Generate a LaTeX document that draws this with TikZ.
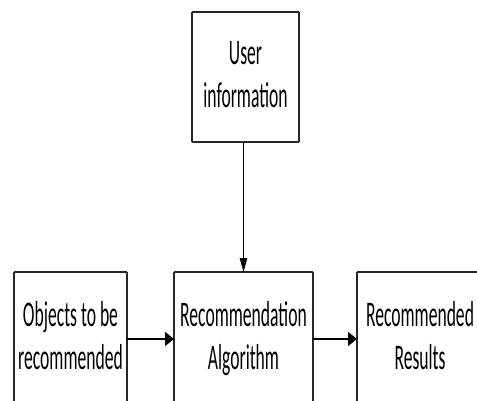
\documentclass[tikz,border=0pt]{standalone}
\usepackage{fontspec}
\setmainfont{Carlito}
\usetikzlibrary{arrows.meta}
\newcommand\stretchtext[1]{\scalebox{1}[2.05]{\fontsize{17.6}{21}\selectfont\begin{tabular}{@{}c@{}}#1\end{tabular}}}
\begin{document}
\begin{tikzpicture}[x=1pt,y=-1pt,
  box/.style={inner sep=0pt, outer sep=0pt},
  hline/.style={draw=black!85, line width=1.8pt},
  vline/.style={draw=black!85, line width=1.1pt},
  harr/.style={draw=black, line width=1.8pt, -{Triangle[length=9pt,width=14pt]}},
  varr/.style={draw=black, line width=1.1pt, -{Triangle[length=14pt,width=7.5pt]}}]
\useasboundingbox (0,0) rectangle (477,400);
\clip (0,0) rectangle (477,400);
\node[box, minimum width=107pt, minimum height=130pt] (user) at (245.5,77) {\stretchtext{User\\information}};
\node[box, minimum width=113pt, minimum height=134pt] (obj) at (70.5,339) {\stretchtext{Objects to be\\recommended}};
\node[box, minimum width=139pt, minimum height=134pt] (alg) at (243.5,339) {\stretchtext{Recommendation\\Algorithm}};
\node[box, minimum width=126pt, minimum height=134pt] (res) at (420,339) {\stretchtext{Recommended\\Results}};
\foreach \n in {user,obj,alg,res}{
  \draw[hline] (\n.north west) -- (\n.north east);
  \draw[hline] (\n.south west) -- (\n.south east);
  \draw[vline] (\n.north west) -- (\n.south west);
  \draw[vline] (\n.north east) -- (\n.south east);
}
\draw[varr] (alg.north |- user.south) -- (alg.north);
\draw[harr] (obj.east) -- (alg.west);
\draw[harr] (alg.east) -- (res.west);
\end{tikzpicture}
\end{document}
